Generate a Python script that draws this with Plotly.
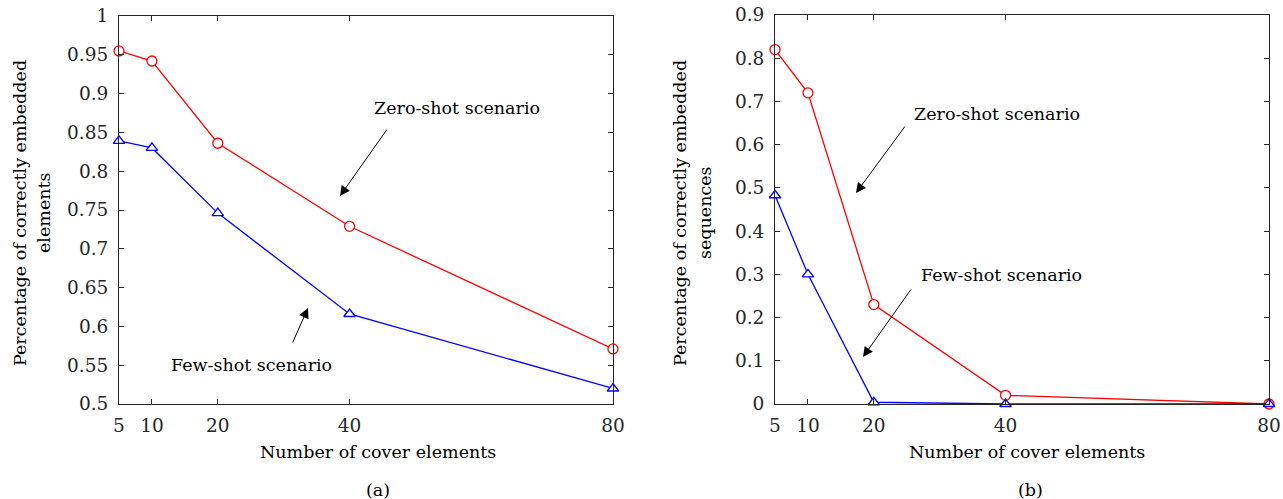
import plotly.graph_objects as go

# ---- data ----
cover_elements = [5, 10, 20, 40, 80]
elements_zero_shot = [0.955, 0.942, 0.836, 0.729, 0.571]
elements_few_shot = [0.839, 0.830, 0.746, 0.616, 0.520]
sequences_zero_shot = [0.82, 0.72, 0.23, 0.02, 0.0]
sequences_few_shot = [0.483, 0.30, 0.004, 0.0, 0.0]

left_yticks = [0.5, 0.55, 0.6, 0.65, 0.7, 0.75, 0.8, 0.85, 0.9, 0.95, 1.0]
left_yticklabels = ["0.5", "0.55", "0.6", "0.65", "0.7", "0.75", "0.8", "0.85", "0.9", "0.95", "1"]
right_yticks = [0, 0.1, 0.2, 0.3, 0.4, 0.5, 0.6, 0.7, 0.8, 0.9]
right_yticklabels = ["0", "0.1", "0.2", "0.3", "0.4", "0.5", "0.6", "0.7", "0.8", "0.9"]

W, H = 1283, 499
FONT = "DejaVu Serif"
AXC = "#262626"
TXT = 17.5

fig = go.Figure()

def add_series(x, y, color, symbol, xa, ya):
    fig.add_trace(go.Scatter(
        x=x, y=y, mode="lines+markers", xaxis=xa, yaxis=ya,
        line=dict(color=color, width=1.3),
        marker=dict(symbol=symbol, size=10, color="white",
                    line=dict(color=color, width=1.3)),
        cliponaxis=False, showlegend=False))

add_series(cover_elements, elements_zero_shot, "#ff0000", "circle", "x", "y")
add_series(cover_elements, elements_few_shot, "#0000ff", "triangle-up", "x", "y")
add_series(cover_elements, sequences_zero_shot, "#ff0000", "circle", "x2", "y2")
add_series(cover_elements, sequences_few_shot, "#0000ff", "triangle-up", "x2", "y2")

def px(x):
    return x / W

def py(y):
    return 1 - y / H

axis_common = dict(showline=True, linecolor=AXC, linewidth=1, mirror="ticks",
                   ticks="inside", ticklen=5, tickcolor=AXC, showgrid=False,
                   zeroline=False, automargin=False,
                   tickfont=dict(family=FONT, size=18.5, color=AXC))

fig.update_layout(
    width=W, height=H, margin=dict(l=0, r=0, t=0, b=0, autoexpand=False),
    paper_bgcolor="white", plot_bgcolor="white",
    font=dict(family=FONT, color="black"),
    xaxis=dict(domain=[px(119), px(613)], range=[5, 80], tickvals=cover_elements,
               ticktext=[str(v) for v in cover_elements], anchor="y",
               ticklabelstandoff=5, **axis_common),
    yaxis=dict(domain=[py(404), py(16)], range=[0.5, 1.0], tickvals=left_yticks,
               ticktext=left_yticklabels, anchor="x", ticklabelstandoff=6, **axis_common),
    xaxis2=dict(domain=[px(775), px(1269)], range=[5, 80], tickvals=cover_elements,
                ticktext=[str(v) for v in cover_elements], anchor="y2",
                ticklabelstandoff=5, **axis_common),
    yaxis2=dict(domain=[py(404), py(15)], range=[0, 0.9], tickvals=right_yticks,
                ticktext=right_yticklabels, anchor="x2", ticklabelstandoff=6, **axis_common),
)

ann = []
def text(x, y, s, size=TXT, angle=0):
    ann.append(dict(x=px(x), y=py(y), xref="paper", yref="paper", text=s,
                    showarrow=False, textangle=angle, xanchor="center", yanchor="middle",
                    font=dict(family=FONT, size=size, color="black")))

def arrow(hx, hy, tx, ty):
    ann.append(dict(x=px(hx), y=py(hy), xref="paper", yref="paper", text="",
                    showarrow=True, ax=tx - hx, ay=ty - hy, axref="pixel", ayref="pixel",
                    arrowhead=2, arrowsize=2, arrowwidth=1, arrowcolor="black"))

# panel (a)
text(457, 108, "Zero-shot scenario")
text(251, 365, "Few-shot scenario")
arrow(340, 196, 388, 128)
arrow(308, 308, 292, 344)
text(378, 452, "Number of cover elements")
text(378, 490, "(a)")
text(20, 213, "Percentage of correctly embedded", angle=-90)
text(44, 213, "elements", angle=-90)

# panel (b)
text(997, 114, "Zero-shot scenario")
text(1001, 275, "Few-shot scenario")
arrow(856, 193, 906, 125)
arrow(863, 357, 912, 288)
text(1027, 452, "Number of cover elements")
text(1030, 490, "(b)")
text(680, 213, "Percentage of correctly embedded", angle=-90)
text(705, 213, "sequences", angle=-90)

fig.update_layout(annotations=ann)
fig.write_html("out.html")
